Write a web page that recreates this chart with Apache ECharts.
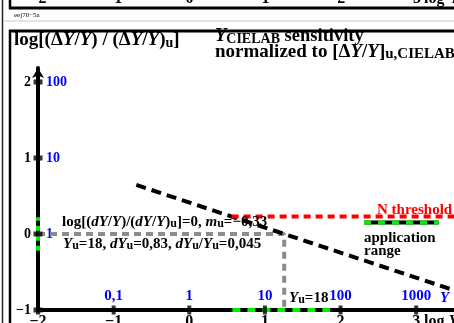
<!DOCTYPE html>
<html>
<head>
<meta charset="utf-8">
<script src="https://cdn.jsdelivr.net/npm/echarts@6/dist/echarts.min.js"></script>
<style>html,body{margin:0;padding:0;background:#fff}#c{width:454px;height:323px}</style>
</head>
<body>
<div id="c"></div>
<script>
// ---- data ----
const xTicks = [-2, -1, 0, 1, 2, 3];           // log Y
const yTicks = [-1, 0, 1, 2];                  // log ratio
const blueXLabels = {'-1': '0,1', '0': '1', '1': '10', '2': '100', '3': '1000'};
const blueYLabels = {'0': '1', '1': '10', '2': '100'};
const topStripLabels = ['−2', '−1', '0', '1', '2', '3'];
const logYu = 1.255;                           // log10(18)
const sensX = [-0.7, 3.5];                     // sensitivity line (slope -0.33)
const sensY = [0.645, -0.74];
const thresholdX = [0.56, 3.5];                // N threshold
const thresholdY = [0.23, 0.23];
const appRangeX = [2.31, 3.30];                // application range sample
const appRangeY = [0.15, 0.15];
const axisGreenX = [0.57, 1.86];               // green range on x axis
const axisGreenY = [-0.22, 0.22];              // green range on y axis
const grayRefX = [-2, logYu, logYu];
const grayRefY = [0, 0, -1];

const FF = 'Liberation Serif, Times New Roman, serif';
const chart = echarts.init(document.getElementById('c'), null, {renderer: 'canvas'});

function richStyles(size, sub, color) {
  return {
    b: {fontFamily: FF, fontWeight: 'bold', fontSize: size, lineHeight: 20, verticalAlign: 'bottom', fill: color},
    i: {fontFamily: FF, fontWeight: 'bold', fontStyle: 'italic', fontSize: size, lineHeight: 20, verticalAlign: 'bottom', fill: color},
    s: {fontFamily: FF, fontWeight: 'bold', fontSize: sub, lineHeight: sub, verticalAlign: 'bottom', fill: color}
  };
}
function rtext(x, y, text, size, color, sub) {
  return {type: 'text', z: 100, x: x, y: y,
    style: {text: text, rich: richStyles(size, sub || 12, color || '#000'), fill: color || '#000',
      font: 'bold ' + size + 'px ' + FF, align: 'left', verticalAlign: 'top'}};
}
function pairs(xs, ys) { return xs.map((x, i) => [x, ys[i]]); }
function fmtMinus(v) { return v < 0 ? '−' + Math.abs(v) : String(v); }

const graphics = [
  // frames
  {type: 'line', z: 50, shape: {x1: 2.5, y1: 0, x2: 2.5, y2: 323}, style: {stroke: '#222', lineWidth: 1.5}},
  {type: 'line', z: 50, shape: {x1: 10, y1: 0, x2: 10, y2: 9}, style: {stroke: '#000', lineWidth: 2.5}},
  {type: 'line', z: 50, shape: {x1: 9, y1: 8, x2: 454, y2: 8}, style: {stroke: '#000', lineWidth: 3}},
  {type: 'line', z: 50, shape: {x1: 3, y1: 21, x2: 454, y2: 21}, style: {stroke: '#c8c8c8', lineWidth: 1}},
  {type: 'line', z: 50, shape: {x1: 10, y1: 30, x2: 10, y2: 323}, style: {stroke: '#000', lineWidth: 2.5}},
  {type: 'line', z: 50, shape: {x1: 9, y1: 31, x2: 454, y2: 31}, style: {stroke: '#000', lineWidth: 3}},
  {type: 'text', z: 100, x: 14, y: 12, style: {text: 'eej70−5a', font: '7px ' + FF, fill: '#000', verticalAlign: 'top'}},
  // titles
  rtext(14, 30, '{b|log[(Δ}{i|Y}{b|/}{i|Y}{b|) / (Δ}{i|Y}{b|/}{i|Y}{b|)}{s|u}{b|]}', 19, '#000', 14),
  rtext(215, 26, '{i|Y}{s|CIELAB}{b| sensitivity}', 18.5, '#000', 14),
  rtext(215, 42, '{b|normalized to [Δ}{i|Y}{b|/}{i|Y}{b|]}{s|u,CIELAB}', 19, '#000', 15),
  // annotations
  rtext(62, 210, '{b|log[(}{i|dY}{b|/}{i|Y}{b|)/(}{i|dY}{b|/}{i|Y}{b|)}{s|u}{b|]=0, }{i|m}{s|u}{b|=−0,33}', 15),
  rtext(63, 232, '{i|Y}{s|u}{b|=18, }{i|dY}{s|u}{b|=0,83, }{i|dY}{s|u}{b|/}{i|Y}{s|u}{b|=0,045}', 15),
  rtext(377, 198, '{b|N threshold}', 15, '#ff0000'),
  rtext(364, 226, '{b|application}', 15),
  rtext(364, 239, '{b|range}', 15),
  rtext(289, 286, '{i|Y}{s|u}{b|=18}', 15),
  rtext(440, 286, '{i|Y}', 15, '#0000ff'),
  rtext(424, 310, '{b|log }{i|Y}', 16)
];
// top strip: cut-off tick labels of the chart above
topStripLabels.forEach((t, k) => {
  graphics.push({type: 'text', z: 100, x: 38 + k * 75.8, y: 7,
    style: {text: t, font: 'bold 16px ' + FF, fill: '#000', align: 'center', verticalAlign: 'bottom'}});
});
graphics.push({type: 'text', z: 100, x: 424, y: 7,
  style: {text: 'log Y', font: 'bold 16px ' + FF, fill: '#000', align: 'left', verticalAlign: 'bottom'}});

const option = {
  animation: false,
  backgroundColor: '#fff',
  grid: {left: 38, right: 0, top: 68, bottom: 13, containLabel: false, outerBoundsMode: 'none'},
  xAxis: [
    {type: 'value', min: -2, max: 3.5, interval: 1, position: 'bottom',
      axisLine: {show: true, onZero: false, lineStyle: {color: '#000', width: 4}},
      axisTick: {show: false}, splitLine: {show: false},
      axisLabel: {margin: 4, color: '#000', fontFamily: FF, fontWeight: 'bold', fontSize: 16,
        showMaxLabel: false,
        formatter: v => (Number.isInteger(v) && xTicks.includes(v)) ? fmtMinus(v) : ''}},
    {type: 'value', min: -2, max: 3.5, interval: 1, position: 'bottom',
      axisLine: {show: false}, axisTick: {show: false}, splitLine: {show: false},
      axisLabel: {inside: true, margin: 6, color: '#0000ff', fontFamily: FF, fontWeight: 'bold', fontSize: 15,
        showMaxLabel: false,
        formatter: v => blueXLabels[String(v)] || ''}}
  ],
  yAxis: [
    {type: 'value', min: -1, max: 2.184, interval: 1, position: 'left',
      axisLine: {show: true, onZero: false, symbol: ['none', 'arrow'], symbolSize: [9, 10],
        lineStyle: {color: '#000', width: 4}},
      axisTick: {show: false}, splitLine: {show: false},
      axisLabel: {margin: 7, color: '#000', fontFamily: FF, fontWeight: 'bold', fontSize: 14,
        showMaxLabel: false,
        formatter: v => (Number.isInteger(v) && yTicks.includes(v)) ? fmtMinus(v) : ''}},
    {type: 'value', min: -1, max: 2.184, interval: 1, position: 'left',
      axisLine: {show: false}, axisTick: {show: false}, splitLine: {show: false},
      axisLabel: {inside: true, margin: 8, color: '#0000ff', fontFamily: FF, fontWeight: 'bold', fontSize: 14,
        showMaxLabel: false,
        formatter: v => blueYLabels[String(v)] || ''}}
  ],
  series: [
    {type: 'line', clip: false, symbol: 'none', z: 3, data: pairs(grayRefX, grayRefY),
      lineStyle: {color: '#8c8c8c', width: 4, type: [7, 5], cap: 'butt'}},
    {type: 'line', clip: false, symbol: 'none', z: 4, data: pairs(sensX, sensY),
      lineStyle: {color: '#000', width: 4, type: [10, 6], cap: 'butt'}},
    {type: 'line', clip: false, symbol: 'none', z: 4, data: pairs(thresholdX, thresholdY),
      lineStyle: {color: '#ff0000', width: 4, type: [7, 5], cap: 'butt'}},
    {type: 'line', clip: false, symbol: 'none', z: 4, data: pairs(appRangeX, appRangeY),
      lineStyle: {color: '#000', width: 4, type: 'solid', cap: 'butt'}},
    {type: 'line', clip: false, symbol: 'none', z: 5, data: pairs(appRangeX, appRangeY),
      lineStyle: {color: '#00ee00', width: 4, type: [7, 7], cap: 'butt'}},
    {type: 'line', clip: false, symbol: 'none', z: 5, data: pairs(axisGreenX, [-1, -1]),
      lineStyle: {color: '#00ee00', width: 4, type: [8, 7], cap: 'butt'}},
    {type: 'line', clip: false, symbol: 'none', z: 5, data: pairs([-2, -2], axisGreenY),
      lineStyle: {color: '#00ee00', width: 4, type: [5, 5], cap: 'butt'}},
    {type: 'scatter', clip: false, symbol: 'rect', symbolSize: [4, 9], z: 6,
      itemStyle: {color: '#000'}, data: xTicks.map(v => [v, -1])},
    {type: 'scatter', clip: false, symbol: 'rect', symbolSize: [9, 5], z: 6,
      itemStyle: {color: '#000'}, data: yTicks.map(v => [-2, v])}
  ],
  graphic: graphics
};
chart.setOption(option);
</script>
</body>
</html>
